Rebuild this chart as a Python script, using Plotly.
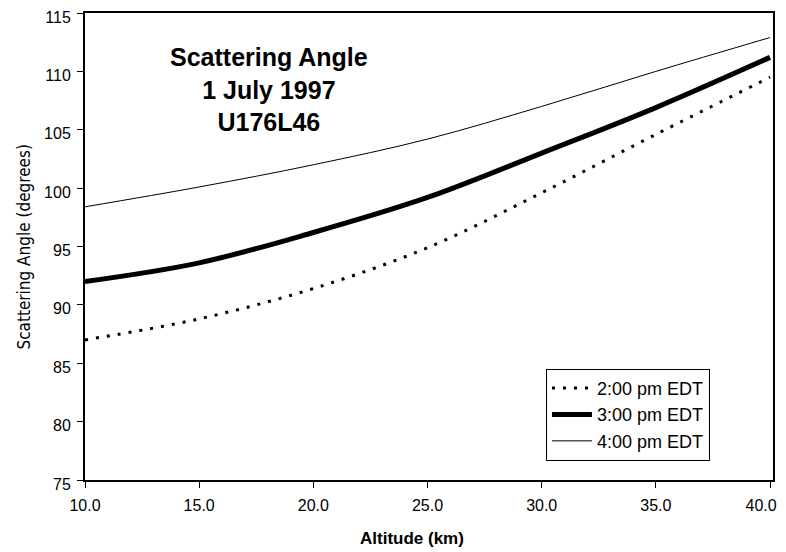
import plotly.graph_objects as go

# altitude (km) and scattering angle (degrees)
altitude = [10.0, 15.0, 20.0, 25.0, 30.0, 35.0, 40.0]
angle_2pm = [87.0, 88.8, 91.4, 94.9, 99.6, 104.6, 109.5]
angle_3pm = [92.0, 93.6, 96.2, 99.2, 103.0, 106.9, 111.2]
angle_4pm = [98.4, 100.1, 102.0, 104.2, 107.0, 110.0, 112.9]

series_names = ["2:00 pm EDT", "3:00 pm EDT", "4:00 pm EDT"]
title_lines = ["Scattering Angle", "1 July 1997", "U176L46"]
x_ticks = [10, 15, 20, 25, 30, 35, 40]
# last label carries figure spaces so it sits a little left and stays on the page
x_tick_text = ["10.0", "15.0", "20.0", "25.0", "30.0", "35.0", "40.0\u2007\u2007"]
y_ticks = [75, 80, 85, 90, 95, 100, 105, 110, 115]

fig = go.Figure()

fig.add_trace(go.Scatter(
    x=altitude, y=angle_2pm, mode="lines", name=series_names[0],
    line=dict(color="black", width=3, dash="3px,8px", shape="spline"),
))
fig.add_trace(go.Scatter(
    x=altitude, y=angle_3pm, mode="lines", name=series_names[1],
    line=dict(color="black", width=5, shape="spline"),
))
fig.add_trace(go.Scatter(
    x=altitude, y=angle_4pm, mode="lines", name=series_names[2],
    line=dict(color="black", width=1, shape="spline"),
))

# text block inside the plot
fig.add_annotation(
    text="<br>".join(title_lines),
    xref="paper", yref="paper", x=0.267, y=0.94,
    xanchor="center", yanchor="top", showarrow=False, align="center",
    font=dict(family="Liberation Sans, Arial", size=25, color="black", weight="bold"),
)
fig.add_annotation(
    text="Altitude (km)",
    xref="paper", yref="paper", x=0.475, y=-0.125,
    xanchor="center", yanchor="middle", showarrow=False,
    font=dict(family="Liberation Sans, Arial", size=17, color="black", weight="bold"),
)
fig.add_annotation(
    text="Scattering Angle (degrees)", textangle=-90,
    xref="paper", yref="paper", x=-0.09, y=0.5,
    xanchor="center", yanchor="middle", showarrow=False,
    font=dict(family="DejaVu Sans Condensed, Liberation Sans Narrow, sans-serif",
              size=17, color="black"),
)

axis_font = dict(family="Liberation Sans, Arial", size=16, color="black")

fig.update_xaxes(
    range=[10, 40.13], tickvals=x_ticks, ticktext=x_tick_text,
    ticks="outside", ticklen=6, tickcolor="black",
    showline=True, linecolor="black", linewidth=2, mirror=True,
    showgrid=False, zeroline=False, tickfont=axis_font, ticklabelstandoff=4,
    ticklabeloverflow="allow", automargin=False,
)
fig.update_yaxes(
    range=[75, 115], tickvals=y_ticks,
    ticks="outside", ticklen=6, tickcolor="black",
    showline=True, linecolor="black", linewidth=2, mirror=True,
    showgrid=False, zeroline=False, tickfont=axis_font, ticklabelstandoff=3,
    ticklabelshift=4, ticklabeloverflow="allow", automargin=False,
)

# the page body adds an 8px offset, so the figure is sized to fit inside it
fig.update_layout(
    width=778, height=544,
    margin=dict(l=77, r=13, t=5, b=72),
    paper_bgcolor="white", plot_bgcolor="white",
    showlegend=True,
    legend=dict(
        x=0.67, y=0.238, xanchor="left", yanchor="top",
        bgcolor="white", bordercolor="black", borderwidth=1,
        font=dict(family="Liberation Sans, Arial", size=18, color="black"),
        tracegroupgap=0, itemwidth=40,
    ),
)

fig.write_html("out.html")
